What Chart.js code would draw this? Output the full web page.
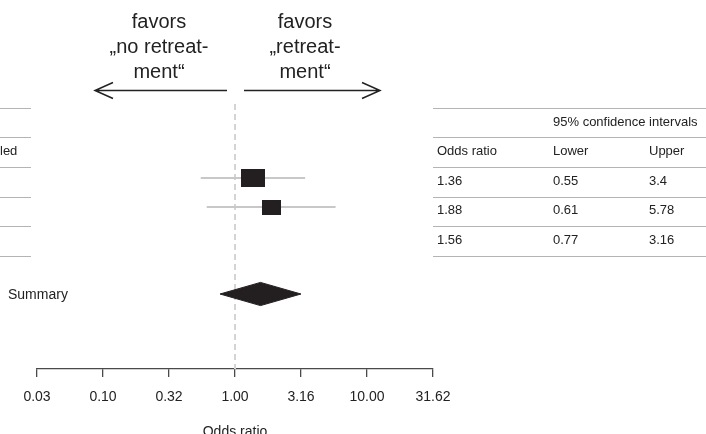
<!DOCTYPE html>
<html>
<head>
<meta charset="utf-8">
<script src="https://cdn.jsdelivr.net/npm/chart.js@4"></script>
<style>
    html, body { margin: 0; padding: 0; background: #fff; }
</style>
</head>
<body>
<canvas id="forest" width="706" height="434"></canvas>
<script>

// DADOS

const studyRows = [1, 2];
const oddsRatio = [1.36, 1.88];
const lowerCI = [0.55, 0.61];
const upperCI = [3.4, 5.78];

const summaryRow = 5;
const summaryOR = 1.56;
const summaryLower = 0.77;
const summaryUpper = 3.16;

const nullEffect = 1;

const tickVals = [0.03162, 0.1, 0.3162, 1, 3.162, 10, 31.62];
const tickLabels = ['0.03', '0.10', '0.32', '1.00', '3.16', '10.00', '31.62'];

const leftLabel = ['favors', '\u201Eno retreat-', 'ment\u201C'];
const rightLabel = ['favors', '\u201Eretreat-', 'ment\u201C'];

const tableHead = ['Odds ratio', 'Lower', 'Upper'];

// ESTILO

const FONT = '"Liberation Sans", Arial, Helvetica, sans-serif';
const INK = '#231f20';
const yMin = -1.552;
const yMax = 7.586;
const boxW = [24, 19];
const boxH = [18, 15];
const diamondHalf = 0.4;
const tableStep = 1.02;

function makeBox(w, h) {
    const c = document.createElement('canvas');
    c.width = w;
    c.height = h;
    const g = c.getContext('2d');
    g.fillStyle = INK;
    g.fillRect(0, 0, w, h);
    return c;
}

function drawArrow(ctx, from, to, y) {
    const dir = to > from ? -1 : 1;
    ctx.beginPath();
    ctx.moveTo(from, y);
    ctx.lineTo(to, y);
    ctx.moveTo(to + dir * 18, y - 8);
    ctx.lineTo(to, y);
    ctx.lineTo(to + dir * 18, y + 8);
    ctx.stroke();
}

// TEXTOS, SETAS E TABELA

const annotations = {
    id: 'annotations',
    afterDraw(chart) {
        const ctx = chart.ctx;
        const xs = chart.scales.x;
        const ys = chart.scales.y;
        const x1 = xs.getPixelForValue(nullEffect);

        ctx.save();
        ctx.fillStyle = '#222';
        ctx.font = '20px ' + FONT;
        ctx.textAlign = 'center';
        ctx.textBaseline = 'alphabetic';
        leftLabel.forEach((t, i) => ctx.fillText(t, x1 - 76, 28 + i * 25));
        rightLabel.forEach((t, i) => ctx.fillText(t, x1 + 70, 28 + i * 25));

        ctx.strokeStyle = '#222';
        ctx.lineWidth = 1.5;
        drawArrow(ctx, x1 - 8, 95, 90.5);
        drawArrow(ctx, x1 + 9, 380, 90.5);

        // linhas da tabela
        ctx.strokeStyle = '#b4b4b4';
        ctx.lineWidth = 1;
        for (let k = 0; k <= 5; k++) {
            const yy = Math.round(ys.getPixelForValue(-1.42 + k * tableStep)) + 0.5;
            ctx.beginPath();
            ctx.moveTo(433, yy);
            ctx.lineTo(706, yy);
            ctx.moveTo(0, yy);
            ctx.lineTo(31, yy);
            ctx.stroke();
        }

        ctx.font = '13px ' + FONT;
        ctx.textAlign = 'left';
        ctx.textBaseline = 'middle';
        const cols = [437, 553, 649];
        const rowY = k => ys.getPixelForValue(-0.93 + k * tableStep);

        ctx.fillText('95% confidence intervals', cols[1], rowY(0));
        tableHead.forEach((t, i) => ctx.fillText(t, cols[i], rowY(1)));
        ctx.fillText('led', 0, rowY(1));

        const rows = oddsRatio.map((v, i) => [v, lowerCI[i], upperCI[i]]);
        rows.push([summaryOR, summaryLower, summaryUpper]);
        rows.forEach((row, r) => {
            row.forEach((v, c) => ctx.fillText(String(v), cols[c], rowY(r + 2)));
        });

        ctx.font = '14px ' + FONT;
        ctx.fillText('Summary', 8, ys.getPixelForValue(summaryRow) + 1);
        ctx.restore();
    }
};

// GRÁFICO

const datasets = [];

datasets.push({
    data: oddsRatio.map((v, i) => ({ x: v, y: studyRows[i] })),
    pointStyle: boxW.map((w, i) => makeBox(w, boxH[i])),
    pointRadius: 1,
    order: 0
});

datasets.push({
    data: [
        { x: summaryLower, y: summaryRow },
        { x: summaryOR, y: summaryRow - diamondHalf },
        { x: summaryUpper, y: summaryRow },
        { x: summaryOR, y: summaryRow + diamondHalf },
        { x: summaryLower, y: summaryRow }
    ],
    showLine: true,
    fill: 'shape',
    backgroundColor: INK,
    borderColor: INK,
    borderWidth: 1,
    pointRadius: 0,
    order: 1
});

studyRows.forEach((row, i) => {
    datasets.push({
        data: [{ x: lowerCI[i], y: row }, { x: upperCI[i], y: row }],
        showLine: true,
        borderColor: '#c8c8c8',
        borderWidth: 2,
        pointRadius: 0,
        order: 2
    });
});

datasets.push({
    data: [{ x: nullEffect, y: yMin }, { x: nullEffect, y: yMax }],
    showLine: true,
    borderColor: '#d4d4d4',
    borderWidth: 2,
    borderDash: [6, 4],
    pointRadius: 0,
    order: 3
});

new Chart(document.getElementById('forest'), {
    type: 'scatter',
    data: { datasets },
    options: {
        responsive: false,
        animation: false,
        layout: { padding: { left: 37, right: 273, top: 104, bottom: 0 } },
        plugins: {
            legend: { display: false },
            tooltip: { enabled: false }
        },
        scales: {
            x: {
                type: 'logarithmic',
                min: tickVals[0],
                max: tickVals[tickVals.length - 1],
                afterBuildTicks: axis => { axis.ticks = tickVals.map(v => ({ value: v })); },
                afterFit: axis => { axis.height = 65; },
                grid: { drawOnChartArea: false, drawTicks: true, tickLength: 8, color: '#4a4a4a', lineWidth: 1.3 },
                border: { display: true, color: '#4a4a4a', width: 1.3 },
                ticks: {
                    color: '#222',
                    font: { size: 14, family: FONT },
                    padding: 12,
                    autoSkip: false,
                    maxRotation: 0,
                    callback: (v, i) => tickLabels[i]
                },
                title: {
                    display: true,
                    text: 'Odds ratio',
                    color: '#222',
                    font: { size: 14, family: FONT },
                    padding: { top: 0, bottom: -7 }
                }
            },
            y: {
                type: 'linear',
                display: false,
                reverse: true,
                min: yMin,
                max: yMax
            }
        }
    },
    plugins: [annotations]
});

</script>
</body>
</html>
